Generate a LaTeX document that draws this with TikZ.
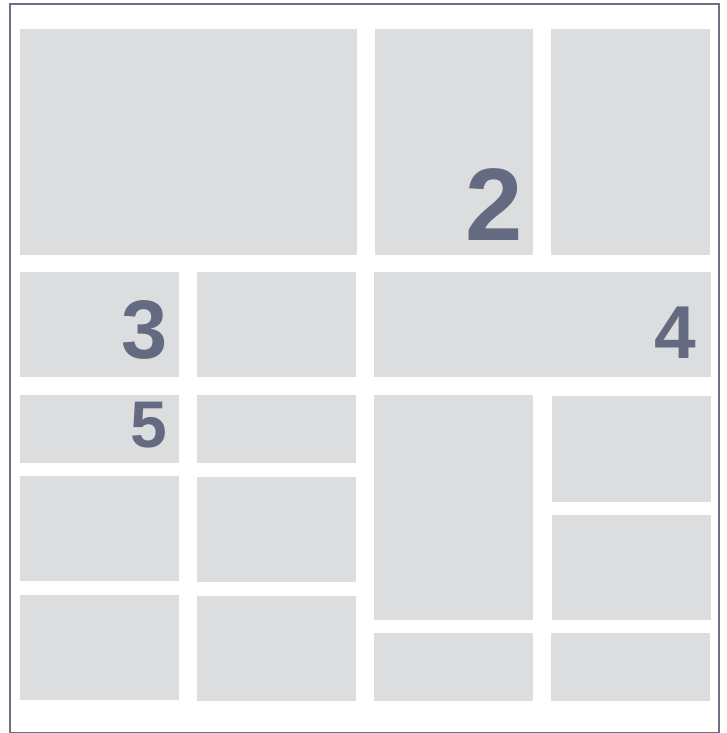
\documentclass[tikz,border=0pt]{standalone}
\usepackage{fontspec}
\newfontfamily\numfont{Liberation Sans}
\definecolor{tilegray}{HTML}{DCDDDF}
\definecolor{slate}{HTML}{646B80}
\definecolor{framecol}{HTML}{6B7087}
\tikzset{
  tile/.style={fill=tilegray, draw=none},
  num/.style={text=slate, inner sep=0pt, anchor=base, font=\numfont\bfseries},
}
\begin{document}
\begin{tikzpicture}[x=1pt, y=-1pt]
\useasboundingbox (0,0) rectangle (726,733);
\draw[framecol, line width=2pt] (10,4.5) rectangle (718.5,732.5);
% top row
\fill[tile] (20,29) rectangle (357,255);
\fill[tile] (375,29) rectangle (533,255);
\fill[tile] (551,29) rectangle (710,255);
% second row
\fill[tile] (20,272) rectangle (179,377);
\fill[tile] (197,272) rectangle (356,377);
\fill[tile] (374,272) rectangle (711,377);
% left block
\fill[tile] (20,395) rectangle (179,463);
\fill[tile] (197,395) rectangle (356,463);
\fill[tile] (20,476) rectangle (179,581);
\fill[tile] (197,477) rectangle (356,582);
\fill[tile] (20,595) rectangle (179,700);
\fill[tile] (197,596) rectangle (356,701);
% right block
\fill[tile] (374,395) rectangle (533,620);
\fill[tile] (552,396) rectangle (711,502);
\fill[tile] (552,515) rectangle (711,620);
\fill[tile] (374,633) rectangle (533,701);
\fill[tile] (551,633) rectangle (710,701);
% numbers
\node[num, font=\numfont\bfseries\fontsize{103}{103}\selectfont] (two) at (494.5,240) {2};
\node[num, font=\numfont\bfseries\fontsize{83}{83}\selectfont] (three) at (145,358) {3};
\node[num, font=\numfont\bfseries\fontsize{75}{75}\selectfont] (four) at (675,358) {4};
\node[num, font=\numfont\bfseries\fontsize{66}{66}\selectfont] (five) at (148.5,447) {5};
\end{tikzpicture}
\end{document}
